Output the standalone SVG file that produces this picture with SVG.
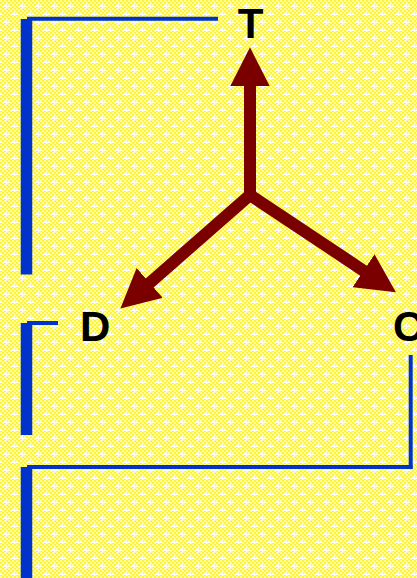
<svg xmlns="http://www.w3.org/2000/svg" width="417" height="578" viewBox="0 0 417 578">
  <defs>
    <pattern id="chk" width="4" height="4" patternUnits="userSpaceOnUse">
      <rect width="4" height="4" fill="#FFF23C"/>
      <rect width="2" height="2" fill="#FFFF99"/>
      <rect x="2" y="2" width="2" height="2" fill="#FFFF99"/>
    </pattern>
    <pattern id="dots" width="16" height="16" patternUnits="userSpaceOnUse">
      <path d="M3,6 h3 v-2 h1 v2 h3 v1 h-3 v2 h-1 v-2 h-3 z" fill="#FFFFFF"/>
      <path d="M11,14 h3 v-2 h1 v2 h3 v1 h-3 v2 h-1 v-2 h-3 z" fill="#FFFFFF"/>
      <path d="M-5,14 h3 v-2 h1 v2 h3 v1 h-3 v2 h-1 v-2 h-3 z" fill="#FFFFFF"/>
    </pattern>
    <marker id="head" markerUnits="userSpaceOnUse" markerWidth="40" markerHeight="40" viewBox="0 -18 36 36" refX="2" refY="0" orient="auto">
      <path d="M0,-17.8 L35,0 L0,17.8 z" fill="#7A0000"/>
    </marker>
    <style>
      .frame { stroke: #0033CC; fill: none; }
      .thick { stroke-width: 11.5; }
      .thin { stroke-width: 4; }
      .arm { stroke: #7A0000; stroke-width: 12; fill: none; marker-end: url(#head); }
      .lbl { font-family: "Liberation Sans", Arial, sans-serif; font-weight: bold; font-size: 42px; fill: #000000; }
    </style>
  </defs>
  <rect width="417" height="578" fill="url(#chk)"/>
  <rect width="417" height="578" fill="url(#dots)"/>

  <g id="frame">
    <line class="frame thin" x1="27" y1="18.7" x2="218" y2="18.7"/>
    <line class="frame thick" x1="26.5" y1="19" x2="26.5" y2="274.5"/>
    <line class="frame thin" x1="27" y1="323" x2="58" y2="323"/>
    <line class="frame thick" x1="26.5" y1="323" x2="26.5" y2="435"/>
    <line class="frame thin" x1="27" y1="467" x2="412.5" y2="467"/>
    <line class="frame thick" x1="26.5" y1="467" x2="26.5" y2="578"/>
    <line class="frame thin" x1="410.7" y1="355" x2="410.7" y2="469"/>
  </g>

  <g id="connectors">
    <line class="arm" x1="250" y1="200" x2="250" y2="84"/>
    <line class="arm" x1="250" y1="195" x2="148" y2="284.4"/>
    <line class="arm" x1="250" y1="195" x2="365.4" y2="271.9"/>
  </g>

  <g id="node-T"><text class="lbl" x="250.5" y="38" text-anchor="middle">T</text></g>
  <g id="node-D"><text class="lbl" x="80" y="341">D</text></g>
  <g id="node-C"><text class="lbl" x="393" y="341">C</text></g>
</svg>
